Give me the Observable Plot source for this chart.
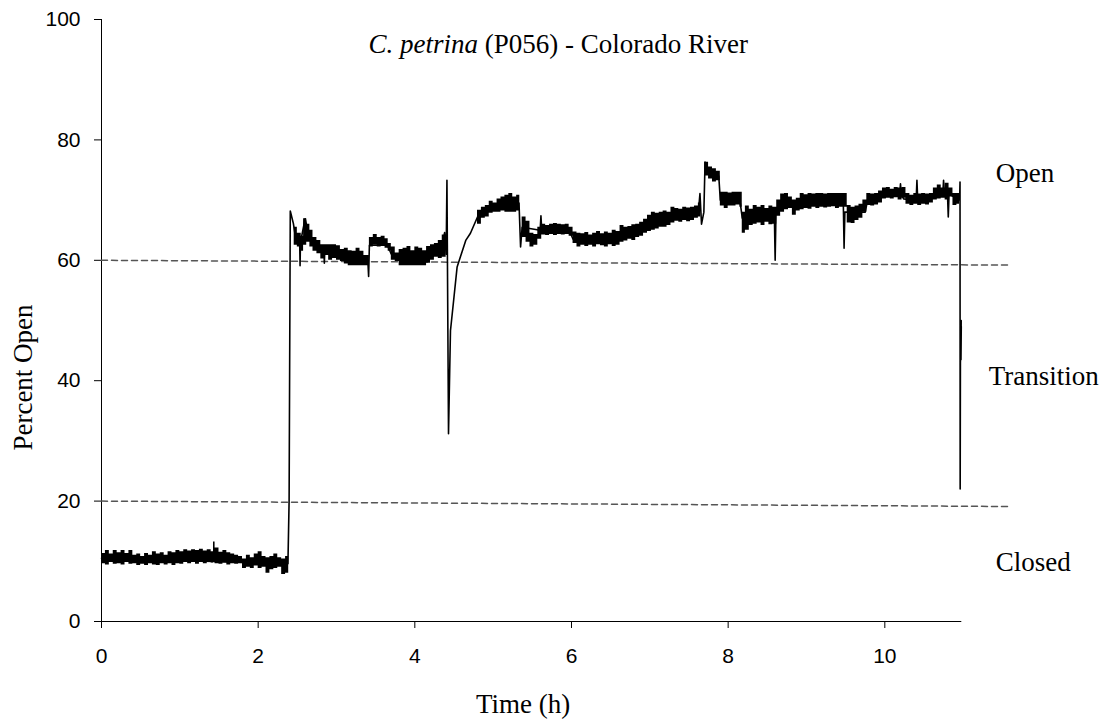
<!DOCTYPE html>
<html>
<head>
<meta charset="utf-8">
<script src="https://cdn.jsdelivr.net/npm/d3@7"></script>
<script src="https://cdn.jsdelivr.net/npm/@observablehq/plot@0.6"></script>
<style>
  html, body { margin: 0; padding: 0; background: #fff; }
  #chart svg { display: block; }
</style>
</head>
<body>
<div id="chart"></div>
<script>
// ---- text ----
const titleSpecies = "C. petrina";
const titleRest = " (P056) - Colorado River";
const xLabel = "Time (h)";
const yLabel = "Percent Open";

// ---- axes ----
const xTicks = [0, 2, 4, 6, 8, 10];
const yTicks = [0, 20, 40, 60, 80, 100];

// ---- zone labels & thresholds ----
const zoneNames = ["Open", "Transition", "Closed"];
const zoneLabelY = [74.4, 40.7, 9.8];
const thresholdStart = [60, 20];
const thresholdEnd = [59.2, 19.1];
const thresholdEndHour = 11.6;

// ---- noise envelope of the record: [hour, low %, high %] (null = gap) ----
const noiseBand = [
  [0.00, 9.6, 11.3], [0.05, 9.4, 11.8], [0.10, 9.8, 11.2], [0.15, 9.5, 11.8], [0.20, 9.6, 11.4],
  [0.25, 9.4, 11.8], [0.30, 9.8, 11.3], [0.35, 9.5, 11.8], [0.40, 9.6, 11.0], [0.45, 9.3, 11.2],
  [0.50, 9.5, 10.8], [0.55, 9.3, 11.3], [0.60, 9.6, 11.0], [0.65, 9.4, 11.6], [0.70, 9.3, 11.2],
  [0.75, 9.6, 11.4], [0.80, 9.4, 11.0], [0.85, 9.6, 11.6], [0.90, 9.3, 11.4], [0.95, 9.6, 11.8],
  [1.00, 9.5, 11.6], [1.05, 9.8, 11.9], [1.10, 9.6, 11.7], [1.15, 9.8, 11.9], [1.20, 9.5, 11.8],
  [1.25, 9.8, 12.0], [1.30, 9.6, 11.7], [1.35, 9.8, 11.9], [1.40, 9.7, 11.6], [1.43, 9.8, 13.2],
  [1.45, 9.6, 12.2], [1.50, 9.5, 11.5], [1.55, 9.7, 11.8], [1.60, 9.4, 11.4], [1.65, 9.6, 11.2],
  [1.70, 9.5, 11.0], [1.75, 9.6, 10.8], [1.80, 8.8, 10.4], [1.85, 9.0, 11.0], [1.90, 8.8, 10.6],
  [1.95, 9.2, 11.2], [2.00, 8.8, 11.6], [2.05, 9.0, 10.8], [2.10, 8.0, 10.6], [2.15, 8.6, 10.8],
  [2.20, 8.8, 11.2], [2.25, 9.0, 10.6], [2.30, 7.8, 10.4], [2.35, 8.0, 10.8], [2.39, 8.0, 10.8],
  [2.40, null, null],
  [2.46, 62.5, 65.5], [2.50, 62.2, 64.5], [2.55, 61.5, 64.0], [2.58, 62.5, 66.9], [2.62, 63.0, 66.0],
  [2.66, 62.2, 65.0], [2.70, 61.5, 63.8], [2.75, 61.1, 63.3], [2.80, 60.2, 62.6], [2.85, 60.8, 62.6],
  [2.90, 60.0, 62.6], [2.95, 60.3, 62.6], [3.00, 60.0, 62.4], [3.05, 59.8, 61.8], [3.10, 59.4, 62.0],
  [3.15, 59.1, 61.6], [3.20, 59.1, 61.5], [3.25, 59.1, 62.0], [3.30, 59.1, 61.5], [3.35, 59.1, 60.8],
  [3.42, 62.2, 63.8], [3.47, 62.5, 64.3], [3.52, 62.2, 63.8], [3.57, 62.3, 64.0], [3.62, 62.0, 63.6],
  [3.66, 61.5, 62.8], [3.70, 60.0, 62.2], [3.75, 59.8, 61.2], [3.80, 59.1, 61.8], [3.85, 59.1, 62.0],
  [3.90, 59.1, 62.3], [3.95, 59.1, 61.6], [4.00, 59.1, 62.2], [4.05, 59.1, 62.0], [4.10, 59.1, 61.6],
  [4.15, 59.5, 62.3], [4.20, 60.0, 62.6], [4.25, 60.5, 62.8], [4.30, 60.3, 63.3], [4.35, 60.5, 64.2],
  [4.40, 60.5, 64.2], [4.401, null, null],
  [4.80, 66.0, 68.3], [4.85, 67.0, 68.8], [4.90, 67.2, 69.1], [4.95, 67.8, 69.8], [5.00, 68.0, 69.5],
  [5.05, 68.0, 70.2], [5.10, 68.2, 70.5], [5.15, 68.0, 70.8], [5.20, 68.0, 71.1], [5.25, 68.0, 70.5],
  [5.30, 68.2, 70.8], [5.34, 68.2, 70.8], [5.341, null, null],
  [5.37, 63.8, 67.2], [5.42, 63.0, 66.5], [5.47, 62.2, 64.5], [5.52, 62.5, 64.3], [5.57, 63.5, 65.5],
  [5.62, 64.2, 66.0], [5.67, 64.1, 65.8], [5.72, 64.3, 66.0], [5.77, 64.1, 66.1], [5.82, 64.3, 66.0],
  [5.87, 64.2, 65.9], [5.92, 64.3, 66.0], [5.97, 64.0, 65.5], [6.02, 62.8, 64.7], [6.07, 62.2, 64.5],
  [6.12, 62.5, 64.4], [6.17, 62.3, 64.6], [6.22, 62.5, 64.2], [6.27, 62.2, 64.5], [6.32, 62.6, 64.8],
  [6.37, 62.4, 64.4], [6.42, 62.2, 64.7], [6.47, 62.6, 64.5], [6.52, 62.3, 65.0], [6.57, 62.5, 64.8],
  [6.62, 63.0, 65.8], [6.67, 63.2, 65.5], [6.72, 63.5, 65.6], [6.77, 63.3, 65.9], [6.82, 63.8, 66.0],
  [6.87, 64.0, 66.3], [6.92, 64.5, 66.8], [6.97, 64.8, 67.5], [7.02, 65.0, 68.0], [7.07, 65.2, 67.8],
  [7.12, 65.5, 68.0], [7.17, 65.5, 68.2], [7.22, 65.8, 68.0], [7.27, 66.2, 68.8], [7.32, 66.5, 68.6],
  [7.37, 66.3, 68.5], [7.42, 66.6, 68.8], [7.47, 66.4, 68.7], [7.52, 66.6, 68.8], [7.57, 67.0, 69.0],
  [7.62, 67.2, 69.5], [7.65, 67.2, 69.5], [7.651, null, null],
  [7.70, 74.0, 76.3], [7.75, 73.5, 75.5], [7.80, 73.0, 75.2], [7.85, 73.2, 74.8], [7.90, 69.0, 71.3],
  [7.95, 68.6, 71.3], [8.00, 69.0, 71.2], [8.05, 69.0, 71.3], [8.10, 69.2, 71.3], [8.15, 68.8, 71.3],
  [8.18, 64.5, 68.0], [8.22, 65.0, 69.0], [8.27, 65.8, 68.5], [8.32, 66.0, 69.1], [8.37, 66.2, 68.8],
  [8.42, 65.8, 69.1], [8.47, 66.3, 68.6], [8.52, 65.9, 69.0], [8.57, 66.0, 68.8], [8.62, 67.3, 70.0],
  [8.67, 68.0, 71.0], [8.72, 68.4, 71.1], [8.77, 68.6, 70.5], [8.82, 67.5, 70.0], [8.87, 68.2, 70.3],
  [8.92, 68.4, 71.1], [8.97, 68.6, 70.9], [9.02, 68.5, 71.1], [9.07, 68.8, 71.0], [9.12, 68.6, 71.1],
  [9.17, 68.8, 71.1], [9.22, 68.7, 71.0], [9.27, 68.8, 71.1], [9.32, 68.9, 71.1], [9.37, 68.6, 71.1],
  [9.42, 68.8, 71.1], [9.47, 68.8, 71.1], [9.52, 66.2, 69.1], [9.57, 66.1, 68.8], [9.62, 66.6, 69.0],
  [9.67, 67.0, 69.3], [9.72, 68.0, 70.0], [9.77, 69.1, 71.1], [9.82, 69.0, 71.0], [9.87, 69.2, 71.1],
  [9.92, 69.5, 71.5], [9.97, 70.2, 72.0], [10.02, 70.3, 72.1], [10.07, 70.2, 71.8], [10.12, 70.4, 72.1],
  [10.17, 70.0, 72.0], [10.22, 70.3, 72.1], [10.27, 69.3, 71.1], [10.32, 69.1, 70.8], [10.37, 69.3, 71.1],
  [10.42, 69.1, 71.0], [10.47, 69.3, 71.1], [10.52, 69.2, 71.0], [10.57, 69.5, 71.1], [10.62, 70.0, 72.0],
  [10.67, 70.2, 72.5], [10.72, 70.3, 72.0], [10.77, 70.0, 72.8], [10.82, 70.5, 72.0], [10.87, 69.1, 71.1],
  [10.92, 69.3, 71.1], [10.955, 69.3, 71.1]
];

// ---- path of the record incl. transitions and spikes: [hour, %] ----
const trace = [
  [0.00, 10.5], [2.38, 9.6], [2.395, 20.0], [2.41, 68.2], [2.45, 66.1], [2.48, 63.5], [2.53, 63.0],
  [2.535, 59.1], [2.54, 63.0], [2.60, 66.9], [2.65, 64.0], [2.75, 62.0], [2.84, 61.5], [2.845, 59.5],
  [2.85, 61.5], [3.40, 60.0], [3.41, 57.3], [3.42, 62.5], [3.65, 62.5], [3.70, 61.0], [4.30, 61.5],
  [4.35, 62.5], [4.38, 64.6], [4.40, 61.0], [4.41, 73.3], [4.43, 31.2], [4.455, 48.3], [4.50, 53.9],
  [4.54, 58.9], [4.58, 60.5], [4.65, 63.3], [4.71, 64.5], [4.80, 67.2], [4.90, 68.2], [5.33, 69.5],
  [5.35, 62.2], [5.37, 65.5], [5.60, 65.0], [5.61, 67.4], [5.62, 65.0], [5.97, 65.0], [6.02, 63.5],
  [6.57, 63.5], [6.62, 64.5], [7.00, 66.5], [7.62, 68.0], [7.64, 71.1], [7.66, 66.0], [7.69, 68.0],
  [7.705, 76.3], [7.75, 74.5], [7.88, 74.0], [7.90, 70.0], [8.15, 70.0], [8.18, 67.0], [8.59, 67.5],
  [8.60, 60.0], [8.61, 67.5], [8.65, 69.5], [9.47, 69.5], [9.48, 62.0], [9.49, 68.0], [9.75, 68.0],
  [9.78, 70.0], [9.95, 70.5], [10.19, 71.0], [10.20, 72.7], [10.21, 71.0], [10.24, 70.2], [10.40, 70.0],
  [10.41, 73.3], [10.42, 70.0], [10.62, 70.8], [10.74, 71.0], [10.75, 73.3], [10.76, 71.0], [10.80, 71.0],
  [10.81, 67.2], [10.82, 71.0], [10.955, 70.0], [10.96, 73.0], [10.962, 22.0], [10.965, 43.0],
  [10.975, 50.0], [10.972, 43.5], [10.976, 49.0]
];

// ---- build tables ----
const band = noiseBand.map(([t, lo, hi]) => ({t, lo, hi}));
const path = trace.map(([t, v]) => ({t, v}));
const thresholds = thresholdStart.flatMap((v, i) => [
  {id: i, t: 0, v},
  {id: i, t: thresholdEndHour, v: thresholdEnd[i]}
]);
const zones = zoneNames.map((name, i) => ({name, y: zoneLabelY[i]}));

const serif = "'Liberation Serif', 'Times New Roman', serif";
const titleFull = titleSpecies + titleRest;

const chart = Plot.plot({
  width: 1103,
  height: 725,
  marginLeft: 101,
  marginRight: 142.7,
  marginTop: 19,
  marginBottom: 104,
  style: {
    fontFamily: "'Liberation Sans', Arial, sans-serif",
    fontSize: "21px",
    color: "#000",
    background: "#fff",
    overflow: "visible"
  },
  x: {domain: [0, 10.97], ticks: xTicks, tickSize: 7, tickPadding: 20, line: true, label: null},
  y: {domain: [0, 100], ticks: yTicks, tickSize: 7, tickPadding: 14, line: true, label: null},
  marks: [
    Plot.line(thresholds, {x: "t", y: "v", z: "id", stroke: "#555", strokeWidth: 1.5, strokeDasharray: "6,4"}),
    Plot.areaY(band, {x: "t", y1: "lo", y2: "hi", curve: "step-after", fill: "#000"}),
    Plot.line(path, {x: "t", y: "v", stroke: "#000", strokeWidth: 1.6}),
    Plot.text([titleFull], {
      frameAnchor: "top", textAnchor: "middle", lineAnchor: "middle", dx: 27, dy: 25,
      fontFamily: serif, fontSize: 27, fill: "#000"
    }),
    Plot.text(zones.filter(d => d.name !== "Transition"), {
      y: "y", text: "name", frameAnchor: "right", textAnchor: "start", lineAnchor: "middle", dx: 35,
      fontFamily: serif, fontSize: 27, fill: "#000"
    }),
    Plot.text(zones.filter(d => d.name === "Transition"), {
      y: "y", text: "name", frameAnchor: "right", textAnchor: "start", lineAnchor: "middle", dx: 28,
      fontFamily: serif, fontSize: 27, fill: "#000"
    }),
    Plot.text([yLabel], {
      frameAnchor: "left", textAnchor: "middle", lineAnchor: "middle", rotate: -90, dx: -78, dy: 57,
      fontFamily: serif, fontSize: 27, fill: "#000"
    }),
    Plot.text([xLabel], {
      frameAnchor: "bottom", textAnchor: "middle", lineAnchor: "middle", dx: -8, dy: 83,
      fontFamily: serif, fontSize: 27, fill: "#000"
    })
  ]
});

// axis lines a bit heavier, like the original
d3.select(chart).selectAll("g[aria-label$='axis'] path, g[aria-label$='axis'] line").attr("stroke-width", 1.5);

// Title with italic species name
d3.select(chart).selectAll("text").each(function() {
  if (this.textContent === titleFull) {
    const t = d3.select(this);
    t.text(null);
    t.append("tspan").attr("font-style", "italic").text(titleSpecies);
    t.append("tspan").text(titleRest);
  }
});

document.getElementById("chart").appendChild(chart);
</script>
</body>
</html>
